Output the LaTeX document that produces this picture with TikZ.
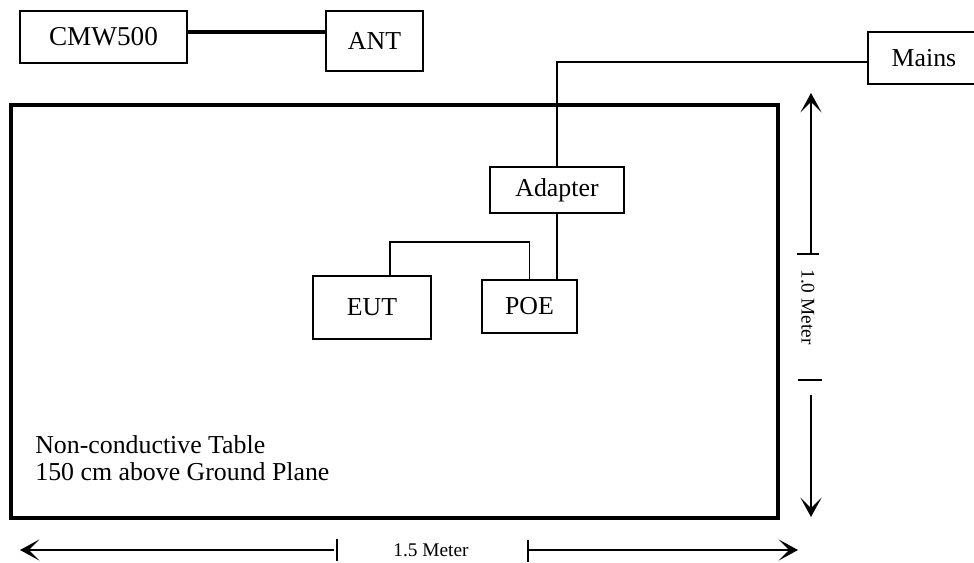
\documentclass[tikz,border=0pt]{standalone}
\usepackage{fontspec}
\setmainfont{Liberation Serif}
\usetikzlibrary{arrows.meta}

\begin{document}
\begin{tikzpicture}[x=0.02cm, y=-0.02cm,
		box/.style={draw, line width=1.1pt, inner sep=0pt, font=\fontsize{14.7}{15}\selectfont},
		wire/.style={line width=0.9pt},
		dim/.style={line width=0.8pt},
		dimtip/.style={-{Stealth[length=11pt, width=12pt, inset=6pt]}},
		dimlabel/.style={font=\fontsize{11}{12}\selectfont, inner sep=0pt}]
				\useasboundingbox (0,0) rectangle (974,562);
				\node[box, minimum width=3.34cm, minimum height=1.04cm, font=\fontsize{15.5}{16}\selectfont] (CMW) at (103.5,37) {CMW500};
				\node[box, minimum width=1.94cm, minimum height=1.2cm] (ANT) at (374.5,41) {ANT};
				\node[box, minimum width=2.24cm, minimum height=1.04cm] (Mains) at (924,58) {Mains};
				\node[draw, line width=2pt, minimum width=15.34cm, minimum height=8.26cm] (T) at (394.5,311.5) {};
				\node[box, minimum width=2.68cm, minimum height=0.92cm] (A) at (557,190) {Adapter};
				\node[box, minimum width=2.36cm, minimum height=1.26cm] (EUT) at (372,307.5) {EUT};
				\node[box, minimum width=1.9cm, minimum height=1.06cm] (POE) at (529.5,306.5) {POE};
				\node[anchor=north west, inner sep=0pt, align=left, font=\fontsize{14.7}{15.3}\selectfont] (TL) at (35,435) {Non-conductive Table\\150 cm above Ground Plane};
				% cables
				\coordinate (cw) at (0,32);
				\draw[line width=2.2pt] (CMW.east |- cw) -- (ANT.west |- cw);
				\coordinate (mj) at (557,62);
				\draw[wire] (A.north) -- (mj) -- (Mains.west |- mj);
				\draw[wire] (A.south) -- (A.south |- POE.north);
				\coordinate (ej) at (390,242);
				\draw[wire] (EUT.north -| ej) -- (ej) -- (ej -| POE.north) -- (POE.north);
				% 1.0 Meter
				\coordinate (V1) at (811,254);
				\coordinate (V2) at (811,395);
				\draw[dim, dimtip] (V1) -- (811,93);
				\draw[dim] (797,254) -- (819,254);
				\node[dimlabel, rotate=-90] (VL) at (808,307) {1.0 Meter};
				\draw[dim] (798,380) -- (822,380);
				\draw[dim, dimtip] (V2) -- (811,517);
				% 1.5 Meter
				\coordinate (H1) at (334,550);
				\coordinate (H2) at (528,550);
				\draw[dim, dimtip] (H1) -- (20,550);
				\draw[dim] (337,539) -- (337,561);
				\node[dimlabel] (HL) at (431,550) {1.5 Meter};
				\draw[dim] (528,540) -- (528,562);
				\draw[dim, dimtip] (H2) -- (798,550);
			\end{tikzpicture}
\end{document}
